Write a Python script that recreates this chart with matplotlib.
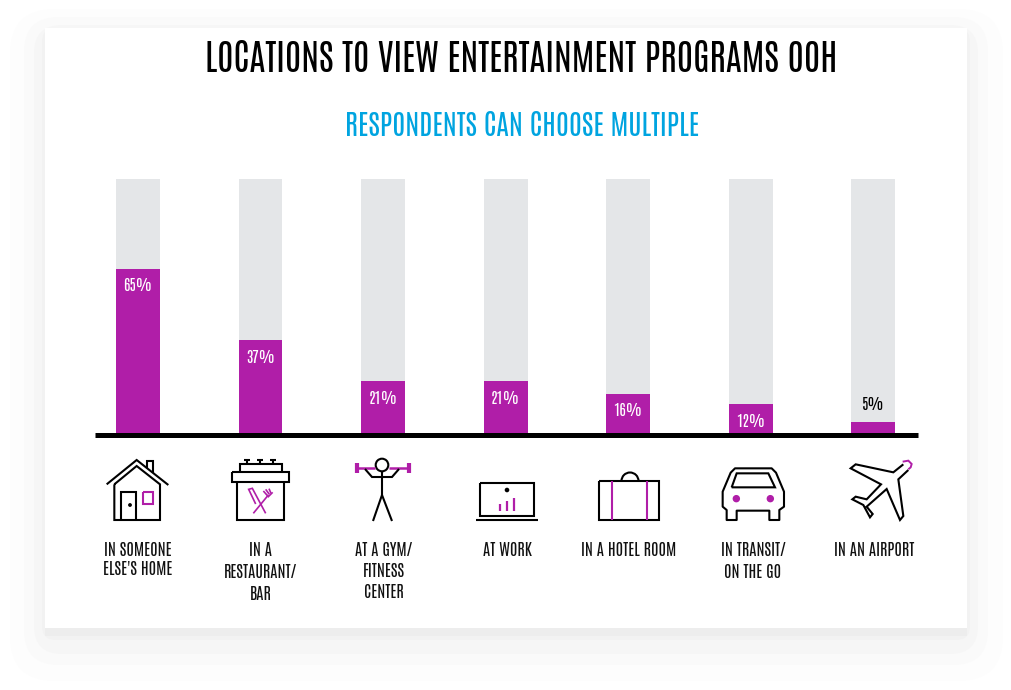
import matplotlib
matplotlib.use('Agg')
import matplotlib.pyplot as plt
from matplotlib.patches import FancyBboxPatch, Rectangle, Circle, Arc, Polygon

categories = ['In someone', 'In a restaurant', 'At a gym', 'At work', 'In a hotel room', 'In transit', 'In an airport']
values = [65, 37, 21, 21, 16, 12, 5]
value_labels = ['65%', '37%', '21%', '21%', '16%', '12%', '5%']
totals = [100, 100, 100, 100, 100, 100, 100]
label_lines = [["IN SOMEONE", "ELSE'S HOME"], ["IN A", "RESTAURANT/", "BAR"], ["AT A GYM/", "FITNESS", "CENTER"],
               ["AT WORK"], ["IN A HOTEL ROOM"], ["IN TRANSIT/", "ON THE GO"], ["IN AN AIRPORT"]]
label_centers = [138, 261, 384, 507, 629, 753, 874]
line_steps = [19, 22, 21, 0, 0, 22, 0]

PURPLE = '#b01ea8'
GREY = '#e4e6e8'
BLUE = '#00a4e0'

# Antonio is closest to the reference lettering, the rest are fallbacks
plt.rcParams['font.family'] = ['Antonio', 'Bebas Neue', 'Liberation Sans Narrow', 'Roboto', 'DejaVu Sans']

fig = plt.figure(figsize=(10.12, 6.9), dpi=100, facecolor='white')

# background layer in pixel coordinates: shadow, card
bg = fig.add_axes([0, 0, 1, 1], zorder=0)
bg.set_xlim(0, 1012)
bg.set_ylim(690, 0)
bg.axis('off')
# left, top, right, bottom, corner radius, colour
for l, t, r, b, rad, col in [(10, 9, 1003, 681, 45, '#fdfdfd'), (24, 17, 988, 665, 35, '#fafafa'),
                             (34, 25, 978, 654, 28, '#f6f6f6'), (42, 28, 970, 640, 14, '#f2f2f2')]:
    bg.add_patch(FancyBboxPatch((l, t), r - l, b - t, boxstyle=f'round,pad=0,rounding_size={rad}',
                                fc=col, ec='none'))
bg.add_patch(Rectangle((45, 628), 922, 8, fc='#ededed', ec='none'))
bg.add_patch(Rectangle((45, 28), 922, 600, fc='white', ec='none'))

# bars
W, H = 1012, 690
ax = fig.add_axes([95 / W, (H - 435) / H, (918 - 95) / W, 256 / H], zorder=2)
ax.patch.set_alpha(0)
ax.set_xlim(-0.351, 6.367)
ax.set_ylim(0, 100)
x = range(len(values))
ax.bar(x, totals, width=0.359, color=GREY)
ax.bar(x, values, width=0.359, color=PURPLE)
for i, v in enumerate(values):
    if v > 10:
        ax.annotate(value_labels[i], (i, v), xytext=(0, -12.2), textcoords='offset points',
                    ha='center', va='center', color='white', fontsize=11)
    else:
        ax.annotate(value_labels[i], (i, v), xytext=(0, 13), textcoords='offset points',
                    ha='center', va='center', color='black', fontsize=11)
ax.set_xticks([])
ax.set_yticks([])
for s in ['top', 'left', 'right']:
    ax.spines[s].set_visible(False)
ax.spines['bottom'].set_linewidth(3.6)
ax.spines['bottom'].set_color('black')
ax.spines['bottom'].set_capstyle('butt')

# top layer: titles, icons, labels in pixel coordinates
fg = fig.add_axes([0, 0, 1, 1], zorder=3)
fg.patch.set_alpha(0)
fg.set_xlim(0, 1012)
fg.set_ylim(690, 0)
fg.axis('off')

fg.text(521, 59, 'LOCATIONS TO VIEW ENTERTAINMENT PROGRAMS OOH', ha='center', va='center', fontsize=25.8, color='black')
fg.text(522, 125, 'RESPONDENTS CAN CHOOSE MULTIPLE', ha='center', va='center', fontsize=20.3, color=BLUE)

for cx, lines, step in zip(label_centers, label_lines, line_steps):
    for k, txt in enumerate(lines):
        fg.text(cx, 550 + k * step, txt, ha='center', va='center', fontsize=11.7, color='#111111')


def line(pts, color='black', lw=1.5, close=False):
    xs = [p[0] for p in pts]
    ys = [p[1] for p in pts]
    if close:
        xs.append(xs[0])
        ys.append(ys[0])
    fg.plot(xs, ys, color=color, lw=lw, solid_joinstyle='miter', solid_capstyle='butt')


def z1(pts):
    return [(90 + a / 3, 440 + b / 3) for a, b in pts]


def z2(pts):
    return [(440 + a / 3, 440 + b / 3) for a, b in pts]


def z3(pts):
    return [(690 + a / 3, 440 + b / 3) for a, b in pts]


# house
line(z1([(50, 133), (140, 60), (235, 135)]))
line(z1([(73, 133), (73, 240), (210, 240), (210, 133), (140, 78), (73, 133)]))
line(z1([(172, 85), (172, 63), (190, 63), (190, 100)]))
line(z1([(93, 240), (93, 157), (137, 157), (137, 240)]))
fg.add_patch(Circle(z1([(120, 195)])[0], 1.2, color='black'))
line(z1([(158, 157), (188, 157), (188, 192), (158, 192)]), color=PURPLE, close=True)

# restaurant
line(z1([(440, 125), (440, 240), (583, 240), (583, 125)]))
line(z1([(427, 97), (598, 97), (598, 125), (427, 125)]), close=True)
line(z1([(450, 97), (450, 73), (576, 73), (576, 97)]))
for kx in (472, 511, 550):
    line(z1([(kx, 60), (kx, 73)]))
    line(z1([(kx - 9, 60), (kx + 9, 60)]))
# knife and fork
line(z1([(527, 220), (487, 145), (476, 148), (497, 192)]), color=PURPLE, lw=1.2)
line(z1([(490, 220), (535, 165)]), color=PURPLE, lw=1.2)
line(z1([(520, 153), (535, 170), (548, 157)]), color=PURPLE, lw=1.2)
line(z1([(527, 148), (538, 163)]), color=PURPLE, lw=1.2)
line(z1([(537, 146), (543, 160)]), color=PURPLE, lw=1.2)

# person with dumbbell
fg.add_patch(Circle((382, 465), 6.3, fc='none', ec='black', lw=1.5))
line([(358, 468), (375, 468)], color=PURPLE, lw=1.8)
line([(389, 468), (409, 468)], color=PURPLE, lw=1.8)
line([(357.5, 463), (357.5, 473)], color=PURPLE, lw=3)
line([(409.5, 463), (409.5, 473)], color=PURPLE, lw=3)
line([(365, 469), (372, 477), (392, 477), (399, 469)])
line([(382, 472), (382, 495)])
line([(373, 521), (382, 495), (392, 521)])

# laptop
line(z2([(120, 128), (282, 128), (282, 227), (120, 227)]), close=True)
line(z2([(108, 240), (293, 240)]))
fg.add_patch(Circle(z2([(201, 150)])[0], 1.6, color='black'))
for bx, by in [(180, 192), (201, 183), (222, 175)]:
    line(z2([(bx, 212), (bx, by)]), color=PURPLE, lw=1.6)

# suitcase
line(z2([(477, 123), (658, 123), (658, 240), (477, 240)]), close=True)
fg.add_patch(Arc(z2([(570, 123)])[0], 17, 17, theta1=180, theta2=360, color='black', lw=1.5))
line(z2([(517, 123), (517, 240)]), color=PURPLE)
line(z2([(621, 123), (621, 240)]), color=PURPLE)

# car
car = [(98, 155), (122, 98), (135, 85), (245, 85), (258, 98), (282, 155), (282, 200), (268, 210), (268, 240),
       (238, 240), (238, 212), (140, 212), (140, 240), (110, 240), (110, 210), (98, 200)]
fg.add_patch(Polygon(z3(car), closed=True, fc='none', ec='black', lw=1.5, joinstyle='round'))
line(z3([(125, 142), (140, 100), (235, 100), (255, 142)]), close=True)
fg.add_patch(Circle(z3([(139, 176)])[0], 3, color=PURPLE))
fg.add_patch(Circle(z3([(241, 176)])[0], 3, color=PURPLE))

# plane
plane = [(655, 90), (625, 118), (640, 228), (630, 240), (590, 147), (530, 200), (548, 222), (540, 232), (520, 195),
         (487, 178), (497, 170), (530, 178), (573, 133), (482, 85), (497, 73), (610, 97), (640, 73)]
line(z3(plane))
line(z3([(638, 65), (655, 62), (665, 72), (662, 82), (655, 88)]), color=PURPLE, lw=1.4)

fig.savefig('out.png', dpi=100)
